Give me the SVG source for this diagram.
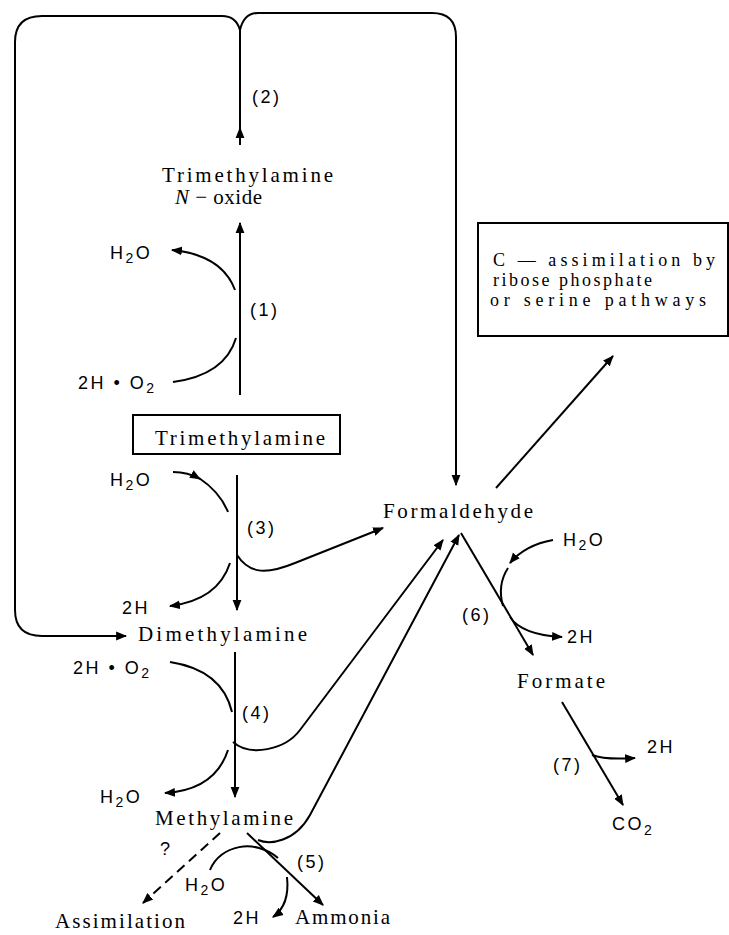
<svg xmlns="http://www.w3.org/2000/svg" width="729" height="935" viewBox="0 0 729 935">
<style>
.ln{stroke:#000;stroke-width:2;fill:none}
.ar{stroke:#000;stroke-width:2;fill:none;marker-end:url(#ah)}
.sf{font-family:"Liberation Serif",serif;font-size:21px;fill:#000}
.bx{font-family:"Liberation Serif",serif;font-size:18px;fill:#000}
.ss{font-family:"Liberation Sans",sans-serif;font-size:18px;fill:#000;letter-spacing:2.5px}
.sub{font-size:14px}
</style>
<defs>
<marker id="ah" viewBox="0 0 10 10" refX="9" refY="5" markerWidth="11" markerHeight="11" markerUnits="userSpaceOnUse" orient="auto">
<path d="M0,1 L10,5 L0,9 z" fill="#000"/>
</marker>
</defs>
<rect width="729" height="935" fill="#fff"/>
<g id="connectors">
<path class="ln" d="M240,30 Q236,16 222,16 L42,16 Q15,16 15,42 L15,610 Q15,636 42,636 L100,636"/>
<path class="ar" d="M90,636 L126,636"/>
<path class="ln" d="M240,30 Q244,13 258,13 L432,13 Q456,13 456,37 L456,470"/>
<path class="ar" d="M456,460 L456,485"/>
<path class="ln" d="M240,30 L240,135"/>
<path class="ar" d="M240,145 L240,128"/>
<path class="ar" d="M240,395 L240,223"/>
<path class="ar" d="M235,290 Q222,255 172,250"/>
<path class="ln" d="M173,382 Q225,375 236,338"/>
<path class="ar" d="M237,475 L237,610"/>
<path class="ar" d="M173,472 Q188,472 200,479"/>
<path class="ln" d="M199,478 Q220,492 228,512"/>
<path class="ar" d="M230,563 Q218,600 170,606"/>
<path class="ar" d="M237,555 C250,575 268,574 295,563 L383,528"/>
<path class="ar" d="M235,652 L235,797"/>
<path class="ln" d="M170,662 Q222,670 232,712"/>
<path class="ar" d="M233,742 C250,757 285,750 300,730 L443,540"/>
<path class="ar" d="M228,750 Q215,790 165,793"/>
<path class="ar" d="M258,840 C270,845 295,842 310,815 L459,535"/>
<path class="ar" d="M220,833 L143,903" stroke-dasharray="10,6"/>
<path class="ar" d="M247,833 L323,905"/>
<path class="ln" d="M210,870 C220,845 255,838 278,858"/>
<path class="ar" d="M287,877 Q290,905 273,917"/>
<path class="ar" d="M461,533 L533,655"/>
<path class="ar" d="M553,540 Q525,545 510,563"/>
<path class="ln" d="M508,568 Q497,585 503,606"/>
<path class="ar" d="M510,617 Q522,635 562,637"/>
<path class="ar" d="M562,702 L623,805"/>
<path class="ar" d="M592,755 Q605,760 635,758"/>
<path class="ar" d="M496,488 L613,356"/>
</g>
<g id="tmao">
<text class="sf" x="162" y="182" textLength="171" lengthAdjust="spacing">Trimethylamine</text>
<text class="sf" x="175" y="204" textLength="87" lengthAdjust="spacing"><tspan font-style="italic">N</tspan> − oxide</text>
</g>
<g id="trimethylamine">
<rect x="133" y="415" width="207" height="39" fill="none" stroke="#000" stroke-width="2"/>
<text class="sf" x="155" y="445" textLength="170" lengthAdjust="spacing">Trimethylamine</text>
</g>
<g id="dimethylamine"><text class="sf" x="138" y="641" textLength="169" lengthAdjust="spacing">Dimethylamine</text></g>
<g id="methylamine"><text class="sf" x="155" y="825" textLength="138" lengthAdjust="spacing">Methylamine</text></g>
<g id="formaldehyde"><text class="sf" x="383" y="518" textLength="150" lengthAdjust="spacing">Formaldehyde</text></g>
<g id="formate"><text class="sf" x="517" y="688" textLength="88" lengthAdjust="spacing">Formate</text></g>
<g id="assimilation"><text class="sf" x="55" y="928" textLength="130" lengthAdjust="spacing">Assimilation</text></g>
<g id="ammonia"><text class="sf" x="295" y="924" textLength="95" lengthAdjust="spacing">Ammonia</text></g>
<g id="cbox">
<rect x="478" y="223" width="250" height="113" fill="none" stroke="#000" stroke-width="2"/>
<text class="bx" x="493" y="266" textLength="222" lengthAdjust="spacing">C — assimilation by</text>
<text class="bx" x="493" y="286" textLength="159" lengthAdjust="spacing">ribose phosphate</text>
<text class="bx" x="490" y="306" textLength="216" lengthAdjust="spacing">or serine pathways</text>
</g>
<g id="labels">
<text class="ss" x="252" y="103">(2)</text>
<text class="ss" x="250" y="316">(1)</text>
<text class="ss" x="247" y="534">(3)</text>
<text class="ss" x="242" y="719">(4)</text>
<text class="ss" x="297" y="868">(5)</text>
<text class="ss" x="462" y="621">(6)</text>
<text class="ss" x="553" y="771">(7)</text>
<text class="ss" x="110" y="259">H<tspan class="sub" dy="4">2</tspan><tspan dy="-4">O</tspan></text>
<text class="ss" x="78" y="389">2H • O<tspan class="sub" dy="4">2</tspan></text>
<text class="ss" x="110" y="486">H<tspan class="sub" dy="4">2</tspan><tspan dy="-4">O</tspan></text>
<text class="ss" x="122" y="614">2H</text>
<text class="ss" x="73" y="674">2H • O<tspan class="sub" dy="4">2</tspan></text>
<text class="ss" x="100" y="803">H<tspan class="sub" dy="4">2</tspan><tspan dy="-4">O</tspan></text>
<text class="ss" x="185" y="891">H<tspan class="sub" dy="4">2</tspan><tspan dy="-4">O</tspan></text>
<text class="ss" x="233" y="924">2H</text>
<text class="ss" x="160" y="855" font-size="12px">?</text>
<text class="ss" x="563" y="546">H<tspan class="sub" dy="4">2</tspan><tspan dy="-4">O</tspan></text>
<text class="ss" x="567" y="643">2H</text>
<text class="ss" x="647" y="753">2H</text>
<text class="ss" x="612" y="830">CO<tspan class="sub" dy="5">2</tspan></text>
</g>
</svg>
